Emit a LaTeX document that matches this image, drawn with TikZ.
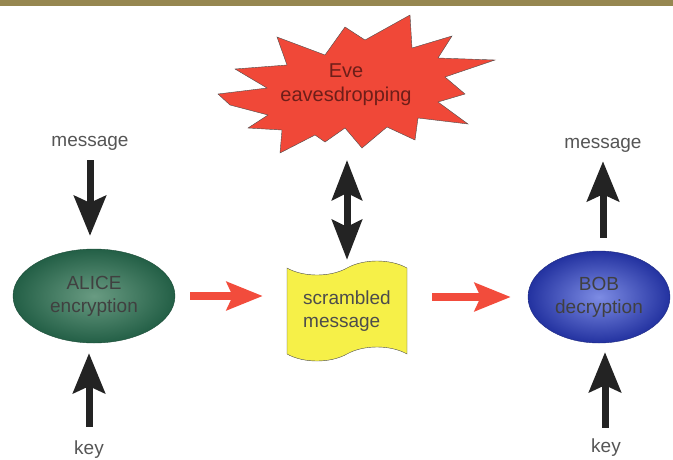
\documentclass[tikz,border=0pt]{standalone}
\usepackage{fontspec}
\setmainfont{Liberation Sans}
\usetikzlibrary{positioning, arrows.meta, shapes.geometric, shapes.symbols}

\definecolor{barolive}{RGB}{150,135,80}
\definecolor{evered}{RGB}{240,72,56}
\definecolor{evetext}{RGB}{110,30,25}
\definecolor{alicedark}{RGB}{35,95,70}
\definecolor{alicelight}{RGB}{105,155,130}
\definecolor{bobdark}{RGB}{35,50,160}
\definecolor{boblight}{RGB}{125,140,228}
\definecolor{tapeyellow}{RGB}{246,240,72}
\definecolor{arrowred}{RGB}{242,76,60}
\definecolor{arrowblack}{RGB}{35,35,35}
\definecolor{labelgray}{RGB}{85,85,85}

\begin{document}
\begin{tikzpicture}[x=1pt, y=-1pt,
    lbl/.style={text=labelgray, font=\fontsize{19}{22}\selectfont, inner sep=2pt},
    blackarrow/.style={draw=arrowblack, line width=7pt, -{Stealth[length=40pt, width=32pt, inset=7pt]}},
    redarrow/.style={draw=arrowred, line width=8pt, -{Stealth[length=36pt, width=28pt, inset=6pt]}}]
    \useasboundingbox (0,0) rectangle (673,459);
    \fill[barolive] (0,0) rectangle (673,6);

    % eve
    \draw[draw=black!70, fill=evered, line join=miter]
        (218,94) -- (267,88) -- (235,69) -- (287,65) -- (277,37) -- (325,55)
        -- (345,27) -- (365,40) -- (410,15) -- (412,48) -- (452,36) -- (438,58)
        -- (495,60) -- (445,77) -- (465,94) -- (438,102) -- (468,124) -- (418,118)
        -- (415,140) -- (387,127) -- (362,148) -- (345,128) -- (325,142) -- (315,135)
        -- (280,153) -- (282,130) -- (248,128) -- (268,115) -- (230,105) -- cycle;
    \node (eve) [text=evetext, align=center, font=\fontsize{20}{24}\selectfont] at (346,85) {Eve\\eavesdropping};
    \coordinate (eveport) at (347,160);

    % the three stations
    \node (alice) [ellipse, draw=alicedark!80!black, shading=radial, inner color=alicelight, outer color=alicedark,
        minimum width=162pt, minimum height=94pt, inner sep=0pt, align=center, text=black!75,
        font=\fontsize{19}{23}\selectfont] at (94,296) {ALICE\\encryption};
    \node (scr) [tape, draw=black!70, fill=tapeyellow, minimum width=120pt, minimum height=100pt,
        tape bend height=14pt, align=left, text=black!70, font=\fontsize{19}{23}\selectfont] at (347,311) {scrambled\\message};
    \node (bob) [ellipse, draw=bobdark!80!black, shading=radial, inner color=boblight, outer color=bobdark,
        minimum width=142pt, minimum height=92pt, inner sep=0pt, align=center, text=black!75,
        font=\fontsize{19}{23}\selectfont] at (599,297) {BOB\\decryption};

    \node (msgL) [lbl] at (90,143) {message};
    \node (keyL) [lbl] at (89,450) {key};
    \node (msgR) [lbl] at (603,145) {message};
    \node (keyR) [lbl] at (606,448) {key};

    \draw[blackarrow, shorten <=8pt, shorten >=13pt] (msgL.south) -- (msgL |- alice.north);
    \draw[blackarrow, shorten <=12pt, shorten >=10pt] (keyL.north) -- (keyL |- alice.south);
    \draw[blackarrow, shorten <=13pt, shorten >=7pt] (msgR |- bob.north) -- (msgR.south);
    \draw[blackarrow, shorten <=9pt, shorten >=9pt] (keyR.north -| 605,0) -- (bob.south -| 605,0);
    \draw[draw=arrowblack, line width=7pt, {Stealth[length=40pt, width=30pt, inset=7pt]}-{Stealth[length=40pt, width=30pt, inset=7pt]},
        shorten >=8pt] (eveport) -- (eveport |- scr.north);

    \draw[redarrow, shorten <=15pt, shorten >=24pt] (alice.east) -- (alice.east -| scr.west);
    \draw[redarrow, shorten <=25pt, shorten >=17pt] (bob.west -| scr.east) -- (bob.west);
\end{tikzpicture}
\end{document}
